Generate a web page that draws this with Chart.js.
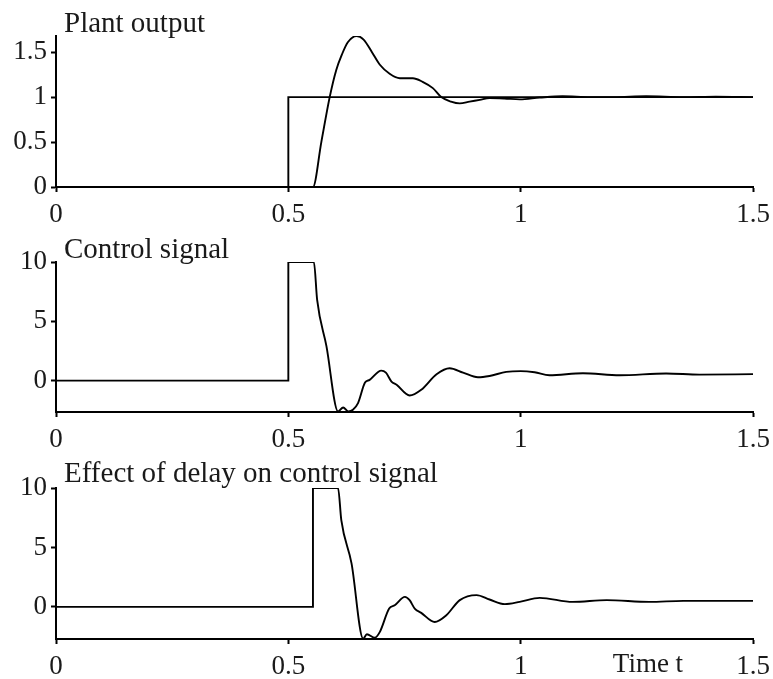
<!DOCTYPE html>
<html>
<head>
<meta charset="utf-8">
<script src="https://cdn.jsdelivr.net/npm/chart.js@4.4.1/dist/chart.umd.min.js"></script>
<style>
    body { margin: 0; background: #fff; }
    .wrap { position: relative; width: 773px; height: 679px; }
    canvas { position: absolute; left: 0; }
</style>
</head>
<body>
<div class="wrap">
    <canvas id="plantChart" width="773" height="225" style="top:0px"></canvas>
    <canvas id="controlChart" width="773" height="225" style="top:225px"></canvas>
    <canvas id="delayChart" width="773" height="229" style="top:450px"></canvas>
</div>
<script>
"use strict";

// Data

const X_TICKS = [0, 0.5, 1, 1.5];

const refT = [0, 0.5, 0.5, 1.5];
const refV = [0, 0, 1, 1];

const outT = [0, 0.553, 0.571, 0.589, 0.603, 0.615, 0.628, 0.647, 0.662, 0.68, 0.697, 0.718, 0.74, 0.768,
              0.789, 0.811, 0.829, 0.85, 0.869, 0.89, 0.912, 0.933, 0.965, 0.998, 1.041, 1.09, 1.15, 1.2,
              1.27, 1.35, 1.42, 1.5];
const outV = [0, 0, 0.5, 1.0, 1.3, 1.47, 1.61, 1.68, 1.64, 1.5, 1.36, 1.26, 1.21, 1.21,
              1.17, 1.1, 1.0, 0.95, 0.93, 0.95, 0.97, 0.99, 0.985, 0.975, 0.995, 1.01, 1.0, 1.0,
              1.01, 1.0, 1.005, 1.0];

const ctrlT = [0, 0.5, 0.5, 0.555, 0.562, 0.582, 0.607, 0.618, 0.629, 0.639, 0.65, 0.665, 0.675, 0.7,
               0.71, 0.722, 0.733, 0.761, 0.786, 0.819, 0.847, 0.876, 0.908, 0.933, 0.969, 1.0, 1.03,
               1.062, 1.134, 1.213, 1.313, 1.385, 1.5];
const ctrlV = [0, 0, 10, 10, 6.8, 2.9, -2.6, -2.27, -2.6, -2.46, -1.9, -0.17, 0.06, 0.84,
               0.67, -0.08, -0.36, -1.26, -0.78, 0.53, 1.04, 0.67, 0.28, 0.39, 0.73, 0.8, 0.7,
               0.45, 0.62, 0.45, 0.6, 0.5, 0.54];

const delayT = [0, 0.553, 0.553, 0.607, 0.614, 0.636, 0.661, 0.669, 0.686, 0.697, 0.717, 0.729, 0.751,
                0.761, 0.772, 0.786, 0.815, 0.84, 0.869, 0.905, 0.933, 0.966, 0.998, 1.041, 1.112,
                1.185, 1.277, 1.35, 1.5];
const delayV = [0, 0, 10, 10, 7.3, 3.66, -2.67, -2.3, -2.59, -2.1, -0.14, 0.14, 0.84,
                0.56, -0.14, -0.5, -1.27, -0.7, 0.57, 0.99, 0.62, 0.23, 0.42, 0.76, 0.42,
                0.57, 0.42, 0.51, 0.51];


const FONT = "'Liberation Serif', 'Times New Roman', serif";
const TEXT_COLOR = "#1a1a1a";
const X_PAD = 7;

function toPoints(ts, vs) {
    return ts.map(function(t, i) { return {x: t, y: vs[i]}; });
}

// plain labels: 0, 0.5, 1, 1.5 (no "1.0")
function plainLabel(value) {
    return String(value);
}


// Panel title (drawn just above the plot, beside the y axis) and optional x label

const panelText = {
    id: "panelText",
    afterDraw: function(chart, args, opts) {
        let ctx = chart.ctx;
        let area = chart.chartArea;
        ctx.save();
        ctx.fillStyle = TEXT_COLOR;
        ctx.font = "29px " + FONT;
        ctx.textAlign = "left";
        ctx.textBaseline = "alphabetic";
        ctx.fillText(opts.title, area.left + 8, area.top - opts.gap);
        if (opts.xLabel) {
            let xs = chart.scales.x;
            ctx.font = "27px " + FONT;
            ctx.textAlign = "center";
            ctx.textBaseline = "top";
            ctx.fillText(opts.xLabel, xs.getPixelForValue(opts.xLabelAt), xs.top + 5 + X_PAD);
        }
        ctx.restore();
    }
};


function makeChart(id, datasets, yMin, yMax, yStep, padTop, xHeight, text) {
    let ctx = document.getElementById(id).getContext("2d");
    return new Chart(ctx, {
        type: "line",
        data: { datasets: datasets },
        options: {
            responsive: false,
            animation: false,
            layout: { padding: { top: padTop, right: 20, left: 0, bottom: 0 } },
            elements: { point: { radius: 0 }, line: { borderColor: "#000", borderWidth: 1.9 } },
            plugins: {
                legend: { display: false },
                tooltip: { enabled: false },
                panelText: text
            },
            scales: {
                x: {
                    type: "linear",
                    min: 0,
                    max: 1.5,
                    afterFit: function(scale) {
                        scale.height = xHeight;
                        // tick padding would otherwise also eat into the right side
                        scale.paddingLeft = 0;
                        scale.paddingRight = 17;
                    },
                    afterBuildTicks: function(scale) {
                        scale.ticks = X_TICKS.map(function(v) { return {value: v}; });
                    },
                    border: { display: true, color: "#000", width: 2 },
                    grid: { drawOnChartArea: false, drawTicks: true, tickLength: 5, tickColor: "#000", tickWidth: 2 },
                    ticks: { color: TEXT_COLOR, font: { family: FONT, size: 27 }, padding: X_PAD,
                             maxRotation: 0, callback: plainLabel }
                },
                y: {
                    min: yMin,
                    max: yMax,
                    afterFit: function(scale) { scale.width = 56; },
                    border: { display: true, color: "#000", width: 2 },
                    grid: { drawOnChartArea: false, drawTicks: true, tickLength: 5, tickColor: "#000", tickWidth: 2 },
                    ticks: { stepSize: yStep, includeBounds: false, color: TEXT_COLOR,
                             font: { family: FONT, size: 27 }, padding: 4, callback: plainLabel }
                }
            }
        },
        plugins: [panelText]
    });
}


// Plant output

makeChart("plantChart", [
    { data: toPoints(refT, refV), tension: 0 },
    { data: toPoints(outT, outV), cubicInterpolationMode: "monotone" }
], 0, 1.68, 0.5, 36, 38, { title: "Plant output", gap: 4 });

// Control signal

makeChart("controlChart", [
    { data: toPoints(ctrlT, ctrlV), cubicInterpolationMode: "monotone" }
], -2.65, 10, 5, 37, 38, { title: "Control signal", gap: 4 });

// Effect of delay

makeChart("delayChart", [
    { data: toPoints(delayT, delayV), cubicInterpolationMode: "monotone" }
], -2.7, 10, 5, 38, 40, { title: "Effect of delay on control signal", gap: 6, xLabel: "Time t", xLabelAt: 1.274 });
</script>
</body>
</html>
